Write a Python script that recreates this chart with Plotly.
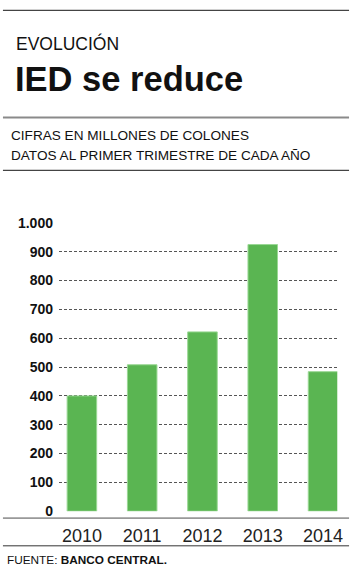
import plotly.graph_objects as go

years = ["2010", "2011", "2012", "2013", "2014"]
values = [400, 508, 622, 925, 484]
y_ticks = [0, 100, 200, 300, 400, 500, 600, 700, 800, 900, 1000]
y_tick_labels = ["0", "100", "200", "300", "400", "500", "600", "700", "800", "900", "1.000"]

W, H = 358, 583
FONT = "Liberation Sans, Arial, sans-serif"


def px(x):
    return x / W


def py(y):
    return 1 - y / H


fig = go.Figure()
fig.add_trace(go.Bar(
    x=list(range(len(years))),
    y=values,
    width=0.49,
    marker=dict(color="#5ab552", line=dict(color="#9ad894", width=1)),
    hoverinfo="x+y",
))

shapes = []
def hline(y, x0, x1, color, width):
    shapes.append(dict(type="line", xref="paper", yref="paper",
                       x0=px(x0), x1=px(x1), y0=py(y), y1=py(y),
                       line=dict(color=color, width=width)))

hline(2.5, 3, 355, "#444444", 1.2)
hline(112.5, 3, 355, "#8a8a8a", 2)
hline(167, 3, 355, "#444444", 1.2)
hline(524.5, 3, 355, "#999999", 1.6)
hline(553, 3, 355, "#333333", 1)

annotations = [
    dict(text="EVOLUCIÓN", x=px(14), y=py(37), size=17.5),
    dict(text="<b>IED se reduce</b>", x=px(13), y=py(72.5), size=34.5),
    dict(text="CIFRAS EN MILLONES DE COLONES", x=px(9), y=py(131), size=13.6),
    dict(text="DATOS AL PRIMER TRIMESTRE DE CADA AÑO", x=px(9), y=py(151.5), size=13.6),
    dict(text="FUENTE: <b>BANCO CENTRAL.</b>", x=px(5), y=py(567.5), size=11.8),
]
ann = []
for a in annotations:
    ann.append(dict(text=a["text"], x=a["x"], y=a["y"], xref="paper", yref="paper",
                    xanchor="left", yanchor="middle", showarrow=False,
                    font=dict(family=FONT, size=a["size"], color="#111111")))

fig.update_layout(
    width=W, height=H,
    margin=dict(l=0, r=0, t=0, b=0),
    paper_bgcolor="white", plot_bgcolor="white",
    showlegend=False,
    shapes=shapes,
    annotations=ann,
    font=dict(family=FONT, color="#111111"),
    xaxis=dict(
        domain=[px(60), px(343)],
        range=[-0.38, 4.236],
        tickmode="array", tickvals=list(range(len(years))), ticktext=years,
        ticks="outside", ticklen=8, tickcolor="rgba(0,0,0,0)",
        tickfont=dict(family=FONT, size=18, color="#222222"),
        showgrid=False, zeroline=False, showline=False,
        fixedrange=True,
    ),
    yaxis=dict(
        domain=[py(517.4), py(221)],
        range=[0, 1000],
        tickmode="array", tickvals=y_ticks, ticktext=y_tick_labels,
        ticks="", ticklabelstandoff=5,
        tickfont=dict(family=FONT, size=14, color="#111111", weight="bold"),
        showgrid=True, gridcolor="#555555", gridwidth=1, griddash="3px,2px",
        zeroline=False, showline=False,
        fixedrange=True,
    ),
)

fig.write_html(
    "out.html",
    config={"displayModeBar": False},
    post_script="document.body.style.margin='0';document.body.style.overflow='hidden';",
)
